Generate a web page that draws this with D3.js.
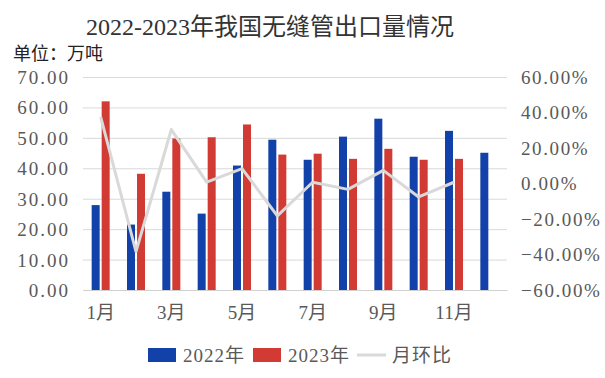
<!DOCTYPE html>
<html>
<head>
<meta charset="utf-8">
<script src="https://cdn.jsdelivr.net/npm/d3@7"></script>
<style>
    body { margin: 0; background: #fff; }
</style>
</head>
<body>
<script>
// months shown on the x axis
var months = ["1月", "2月", "3月", "4月", "5月", "6月", "7月", "8月", "9月", "10月", "11月", "12月"]

// export volume, 10k tonnes
var export2022 = [27.9, 21.5, 32.3, 25.1, 40.9, 49.4, 42.8, 50.4, 56.3, 43.8, 52.3, 45.1]
var export2023 = [62.0, 38.2, 49.8, 50.2, 54.4, 44.5, 44.8, 43.1, 46.4, 42.8, 43.1]

// month over month change, %
var momChange = [37.5, -38.4, 30.4, 0.8, 8.4, -18.2, 0.7, -3.3, 7.4, -7.6, 0.7]

var leftTicks = [0, 10, 20, 30, 40, 50, 60, 70]
var rightTicks = [-60, -40, -20, 0, 20, 40, 60]

var W = 605, H = 378;
var margin = { top: 77, right: 98, bottom: 88, left: 83 };
var w = W - margin.left - margin.right;
var h = H - margin.top - margin.bottom;

var blue = "#1241a9", red = "#d23a34", grey = "#d9d9d9", textCol = "#595959";
var font = "'Liberation Serif', 'Noto Sans CJK SC', serif";

var svg = d3.select("body").append("svg")
    .attr("width", W)
    .attr("height", H);

// title and unit
svg.append("text")
    .attr("x", 270).attr("y", 35)
    .attr("text-anchor", "middle")
    .style("font-family", font)
    .style("font-size", "24px")
    .style("fill", "#333")
    .text("2022-2023年我国无缝管出口量情况");

svg.append("text")
    .attr("x", 13).attr("y", 60)
    .style("font-family", font)
    .style("font-size", "18px")
    .style("fill", "#222")
    .text("单位：万吨");

var g = svg.append("g")
    .attr("transform", "translate(" + margin.left + "," + margin.top + ")");

// scales
var x0 = d3.scaleBand().domain(months).range([0, w]);
var x1 = d3.scaleBand().domain(["2022", "2023"]).range([0, 18]).paddingInner(0.2);
var yL = d3.scaleLinear().domain([0, 70]).range([h, 0]);
var yR = d3.scaleLinear().domain([-60, 60]).range([h, 0]);

// grid lines
var grid = g.append("g")
    .call(d3.axisLeft(yL).tickValues(leftTicks).tickSize(-w).tickFormat(""));
grid.select(".domain").remove();
grid.selectAll("line").attr("stroke", grey);

// left axis labels
var axL = g.append("g")
    .call(d3.axisLeft(yL).tickValues(leftTicks).tickSize(0).tickPadding(13)
        .tickFormat(d3.format(".2f")));
axL.select(".domain").remove();
axL.selectAll("text")
    .style("font-family", font)
    .style("font-size", "19px")
    .style("letter-spacing", "2px")
    .style("fill", textCol)
    .attr("dy", "0.34em");

// right axis labels
var axR = g.append("g")
    .attr("transform", "translate(" + w + ",0)")
    .call(d3.axisRight(yR).tickValues(rightTicks).tickSize(0).tickPadding(14)
        .tickFormat(function (d) { return (d < 0 ? "\u2212" : "") + Math.abs(d).toFixed(2) + "%"; }));
axR.select(".domain").remove();
axR.selectAll("text")
    .style("font-family", font)
    .style("font-size", "19px")
    .style("letter-spacing", "1.6px")
    .style("fill", textCol)
    .attr("dy", "0.34em");

// x axis
var axX = g.append("g")
    .attr("transform", "translate(0," + h + ")")
    .call(d3.axisBottom(x0).tickSize(0).tickPadding(16)
        .tickFormat(function (d, i) { return i % 2 === 0 ? d : ""; }));
axX.select(".domain").attr("stroke", "#d0d0d0");
axX.selectAll("text")
    .style("font-family", font)
    .style("font-size", "19px")
    .style("fill", textCol);

// bars
var bars = g.append("g");
bars.selectAll(".b22")
    .data(export2022)
    .enter().append("rect")
    .attr("x", function (d, i) { return x0(months[i]) + x0.bandwidth() / 2 - 9 + x1("2022"); })
    .attr("y", function (d) { return yL(d); })
    .attr("width", x1.bandwidth())
    .attr("height", function (d) { return h - yL(d); })
    .style("fill", blue);

bars.selectAll(".b23")
    .data(export2023)
    .enter().append("rect")
    .attr("x", function (d, i) { return x0(months[i]) + x0.bandwidth() / 2 - 9 + x1("2023"); })
    .attr("y", function (d) { return yL(d); })
    .attr("width", x1.bandwidth())
    .attr("height", function (d) { return h - yL(d); })
    .style("fill", red);

// month over month line
var line = d3.line()
    .x(function (d, i) { return x0(months[i]) + x0.bandwidth() / 2; })
    .y(function (d) { return yR(d); });

g.append("path")
    .datum(momChange)
    .attr("d", line)
    .attr("fill", "none")
    .attr("stroke", grey)
    .attr("stroke-width", 3)
    .attr("stroke-linejoin", "round");

// legend
var legend = svg.append("g").attr("transform", "translate(0,355)");
var items = [
    { name: "2022年", type: "rect", color: blue, x: 148 },
    { name: "2023年", type: "rect", color: red, x: 253 },
    { name: "月环比", type: "line", color: grey, x: 357 }
];
items.forEach(function (it) {
    if (it.type === "rect") {
        legend.append("rect")
            .attr("x", it.x).attr("y", -7)
            .attr("width", 28).attr("height", 14)
            .style("fill", it.color);
    } else {
        legend.append("line")
            .attr("x1", it.x).attr("x2", it.x + 29)
            .attr("y1", 0).attr("y2", 0)
            .attr("stroke", it.color)
            .attr("stroke-width", 3);
    }
    legend.append("text")
        .attr("x", it.x + 35).attr("y", 7)
        .style("font-family", font)
        .style("font-size", "19px")
        .style("letter-spacing", "1px")
        .style("fill", textCol)
        .text(it.name);
});
</script>
</body>
</html>
